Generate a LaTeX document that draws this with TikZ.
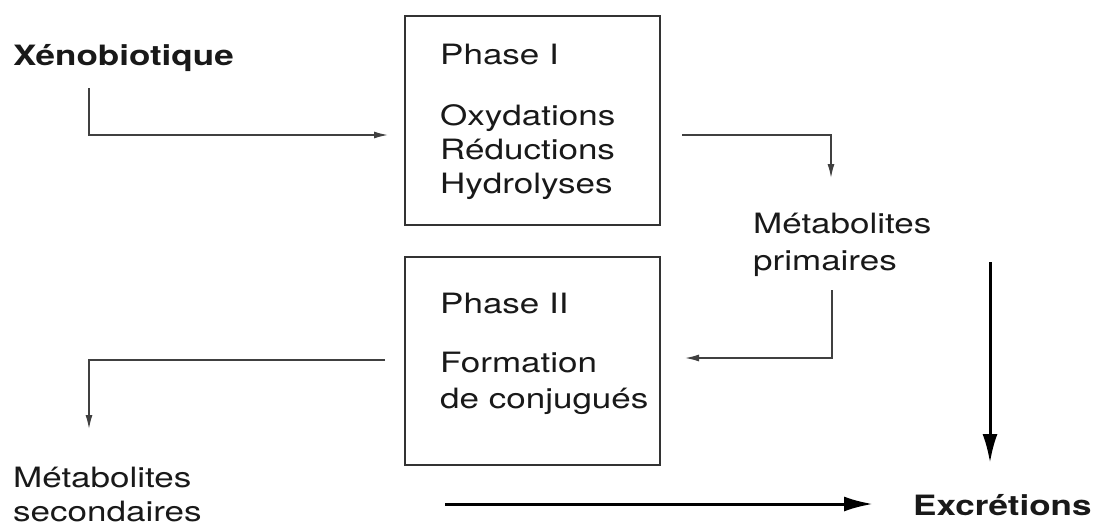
\documentclass[tikz,border=0pt]{standalone}
\usepackage{fontspec}
\setmainfont{TeX Gyre Heros}[FakeStretch=1.25]
\usetikzlibrary{arrows.meta}

\begin{document}
\begin{tikzpicture}[x=1pt, y=-1pt,
    texte/.style={inner sep=0pt, anchor=base west, text=black!90, font=\fontsize{28}{34}\selectfont},
    gras/.style={texte, font=\fontsize{28}{34}\selectfont\bfseries},
    boite/.style={draw=black!80, line width=1.6pt, minimum width=255pt, minimum height=209pt},
    fin/.style={draw=black!75, line width=1.5pt, -{Latex[length=14pt, width=7pt]}},
    gros/.style={draw=black, line width=3pt, -{Latex[length=29pt, width=15pt]}}]

   \useasboundingbox (0,0) rectangle (1100,525);

   % les deux phases
   \node[boite] (phaseI) at (532.5,120.5) {};
   \node[boite, minimum height=208pt] (phaseII) at (532.5,361) {};

   \node[texte] (tI) at (440,64) {Phase I};
   \node[texte] (ox) at (440,125) {Oxydations};
   \node[texte] (red) at (440,159) {Réductions};
   \node[texte] (hyd) at (440,193) {Hydrolyses};

   \node[texte] (tII) at (440,313) {Phase II};
   \node[texte] (form) at (440,372) {Formation};
   \node[texte] (conj) at (440,408) {de conjugués};

   % entrees et sorties
   \node[gras] (xeno) at (13,65) {Xénobiotique};
   \node[texte] (prim) at (753,233) {Métabolites};
   \node[texte] (prim2) at (753,270) {primaires};
   \node[texte] (sec) at (13,487) {Métabolites};
   \node[texte] (sec2) at (13,521) {secondaires};
   \node[gras] (excr) at (913,515) {Excrétions};

   \coordinate (a1) at (89,88);    \coordinate (b1) at (388,135);
   \coordinate (a2) at (682,135);  \coordinate (b2) at (831,178);
   \coordinate (a3) at (832,290);  \coordinate (b3) at (685,358);
   \coordinate (a4) at (385,360);  \coordinate (b4) at (89,429);
   \coordinate (a5) at (990,262);  \coordinate (b5) at (990,463);
   \coordinate (a6) at (445,504);  \coordinate (b6) at (873,504);

   \draw[fin] (a1) |- (b1);
   \draw[fin] (a2) -| (b2);
   \draw[fin] (a3) |- (b3);
   \draw[fin] (a4) -| (b4);

   \draw[gros] (a5) -- (b5);
   \draw[gros] (a6) -- (b6);

\end{tikzpicture}
\end{document}
